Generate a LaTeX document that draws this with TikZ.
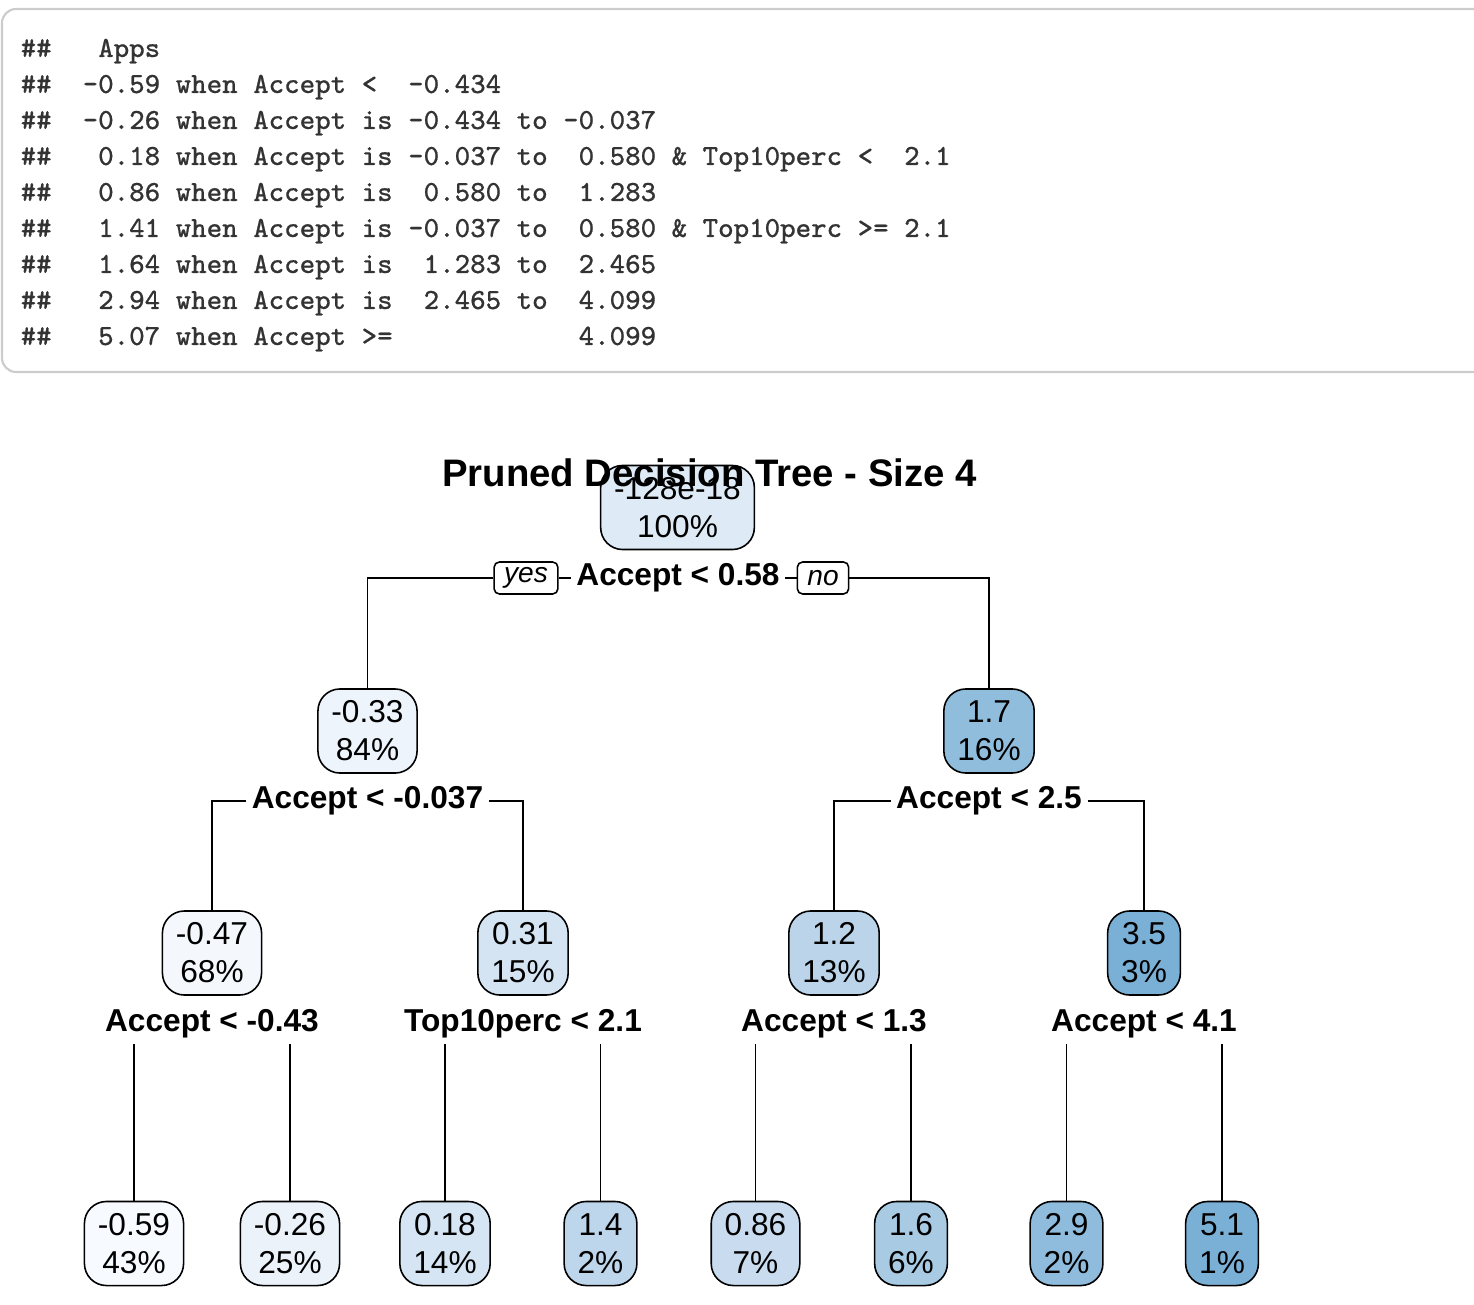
\documentclass[tikz,border=0pt]{standalone}
\usepackage{fontspec}
\setmainfont{Liberation Sans}
\newfontfamily\codefont[FakeBold=0.6]{Latin Modern Mono}
\usepackage{tikz}

\definecolor{codegray}{HTML}{333333}
\definecolor{framegray}{HTML}{CCCCCC}
\definecolor{blueA}{HTML}{DEEAF6}
\definecolor{blueB}{HTML}{EDF4FB}
\definecolor{blueC}{HTML}{91BDDC}
\definecolor{blueD}{HTML}{F4F8FD}
\definecolor{blueE}{HTML}{D5E4F2}
\definecolor{blueF}{HTML}{BBD4EA}
\definecolor{blueG}{HTML}{7BB0D6}
\definecolor{blueH}{HTML}{F7FBFF}
\definecolor{blueI}{HTML}{EBF2FA}
\definecolor{blueJ}{HTML}{D6E5F3}
\definecolor{blueK}{HTML}{BED6EB}
\definecolor{blueL}{HTML}{C9DCEF}
\definecolor{blueM}{HTML}{A8CBE3}
\definecolor{blueN}{HTML}{8FBCDC}
\definecolor{blueO}{HTML}{7AAFD6}

\tikzset{
  codeframe/.style={framegray, line width=0.6pt, rounded corners=4pt},
  codeline/.style={anchor=base west, inner sep=0pt, text=codegray, font=\codefont\fontsize{8.3}{10}\selectfont},
  tnode/.style={draw=black, line width=0.45pt, rounded corners=0.22cm, align=center, inner xsep=0.135cm, inner ysep=0pt, minimum height=0.84cm, font=\fontsize{9}{10.8}\selectfont},
  cond/.style={inner xsep=0.05cm, inner ysep=0.05cm, font=\bfseries\fontsize{9}{10.8}\selectfont},
  tag/.style={draw=black, fill=white, line width=0.45pt, rounded corners=1.5pt, inner xsep=0.1cm, inner ysep=0pt, minimum height=0.32cm, font=\itshape\fontsize{8}{9.6}\selectfont},
  edge/.style={black, line width=0.45pt}
}

\begin{document}
\begin{tikzpicture}[x=0.01cm,y=-0.01cm]
\useasboundingbox (0,0) rectangle (1474,1304);

% printed rules
\draw [codeframe] (2,9) rectangle (1500,372);
\node [codeline] (c1) at (20,57) {\#\#~~~Apps};
\node [codeline] (c2) at (20,93) {\#\#~~-0.59 when Accept <~~-0.434};
\node [codeline] (c3) at (20,129) {\#\#~~-0.26 when Accept is -0.434 to -0.037};
\node [codeline] (c4) at (20,165) {\#\#~~~0.18 when Accept is -0.037 to~~0.580 \& Top10perc <~~2.1};
\node [codeline] (c5) at (20,201) {\#\#~~~0.86 when Accept is~~0.580 to~~1.283};
\node [codeline] (c6) at (20,237) {\#\#~~~1.41 when Accept is -0.037 to~~0.580 \& Top10perc >= 2.1};
\node [codeline] (c7) at (20,273) {\#\#~~~1.64 when Accept is~~1.283 to~~2.465};
\node [codeline] (c8) at (20,309) {\#\#~~~2.94 when Accept is~~2.465 to~~4.099};
\node [codeline] (c9) at (20,345) {\#\#~~~5.07 when Accept >=~~~~~~~~~~~~4.099};

% tree nodes
\node [tnode, fill=blueA] (n1) at (677.5,507.5) {-128e-18\\100\%};
\node [tnode, fill=blueB] (n2) at (367.5,731) {-0.33\\84\%};
\node [tnode, fill=blueC] (n3) at (989,731) {1.7\\16\%};
\node [tnode, fill=blueD] (n4) at (212,953) {-0.47\\68\%};
\node [tnode, fill=blueE] (n5) at (523,953) {0.31\\15\%};
\node [tnode, fill=blueF] (n6) at (834,953) {1.2\\13\%};
\node [tnode, fill=blueG] (n7) at (1144,953) {3.5\\3\%};
\node [tnode, fill=blueH] (n8) at (134,1243.5) {-0.59\\43\%};
\node [tnode, fill=blueI] (n9) at (290,1243.5) {-0.26\\25\%};
\node [tnode, fill=blueJ] (n10) at (445,1243.5) {0.18\\14\%};
\node [tnode, fill=blueK] (n11) at (600.5,1243.5) {1.4\\2\%};
\node [tnode, fill=blueL] (n12) at (755.5,1243.5) {0.86\\7\%};
\node [tnode, fill=blueM] (n13) at (911,1243.5) {1.6\\6\%};
\node [tnode, fill=blueN] (n14) at (1066.5,1243.5) {2.9\\2\%};
\node [tnode, fill=blueO] (n15) at (1222,1243.5) {5.1\\1\%};

% splits
\node [cond] (s1) at (678,578) {Accept < 0.58};
\node [tag] (yes) at (526,578) {yes};
\node [tag] (no) at (823,578) {no};
\node [cond] (s2) at (367.5,801) {Accept < -0.037};
\node [cond] (s3) at (989,801) {Accept < 2.5};
\node [cond] (s4) at (212,1024) {Accept < -0.43};
\node [cond] (s5) at (523,1024) {Top10perc < 2.1};
\node [cond] (s6) at (834,1024) {Accept < 1.3};
\node [cond] (s7) at (1144,1024) {Accept < 4.1};

% branches
\draw [edge] (s1.west) -- (yes.east);
\draw [edge] (yes.west) -| (n2.north);
\draw [edge] (s1.east) -- (no.west);
\draw [edge] (no.east) -| (n3.north);
\draw [edge] (s2.west) -| (n4.north);
\draw [edge] (s2.east) -| (n5.north);
\draw [edge] (s3.west) -| (n6.north);
\draw [edge] (s3.east) -| (n7.north);
\draw [edge] (n8.north) -- (n8.north |- s4.south);
\draw [edge] (n9.north) -- (n9.north |- s4.south);
\draw [edge] (n10.north) -- (n10.north |- s5.south);
\draw [edge] (n11.north) -- (n11.north |- s5.south);
\draw [edge] (n12.north) -- (n12.north |- s6.south);
\draw [edge] (n13.north) -- (n13.north |- s6.south);
\draw [edge] (n14.north) -- (n14.north |- s7.south);
\draw [edge] (n15.north) -- (n15.north |- s7.south);

\node [anchor=base, inner sep=0pt, font=\bfseries\fontsize{10.9}{13}\selectfont] (title) at (709.5,487) {Pruned Decision Tree - Size 4};
\end{tikzpicture}
\end{document}
